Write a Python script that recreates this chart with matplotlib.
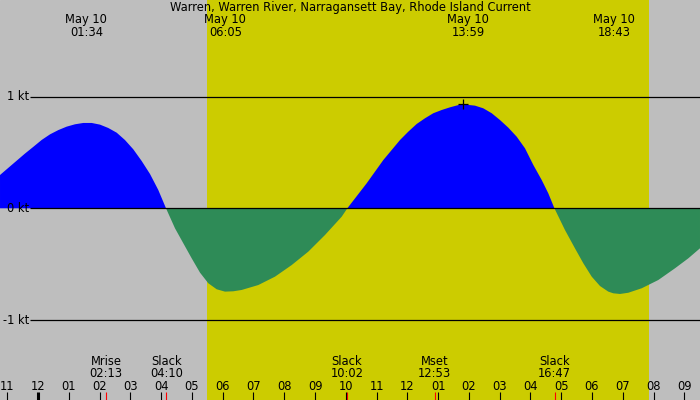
import numpy as np
import matplotlib
matplotlib.use("Agg")
import matplotlib.pyplot as plt

# ---- data (hours relative to midnight May 10, current in knots) ----
hours = [-1.238, -0.913, -0.426, -0.156, 0.117, 0.387, 0.656, 0.929, 1.199, 1.469,
         1.742, 2.012, 2.281, 2.554, 2.824, 3.094, 3.367, 3.637, 3.906, 4.157,
         4.449, 4.719, 4.992, 5.262, 5.531, 5.804, 6.074, 6.344, 6.617, 7.156,
         7.699, 8.242, 8.781, 9.324, 9.867, 10.05,
         10.679, 11.219, 11.761, 12.031, 12.304, 12.574, 12.844, 13.117, 13.387,
         13.656, 13.82, 13.929, 14.199, 14.469, 14.742, 15.012, 15.281, 15.554,
         15.824, 16.094, 16.367, 16.581, 16.78,
         17.122, 17.447, 17.719, 17.992, 18.262, 18.531, 18.694, 18.912, 19.181,
         19.616, 20.156, 20.699, 21.131, 21.511]
knots = [0.298, 0.375, 0.490, 0.550, 0.612, 0.662, 0.700, 0.731, 0.752, 0.764,
         0.764, 0.749, 0.719, 0.677, 0.611, 0.528, 0.423, 0.307, 0.164, 0.0,
         -0.179, -0.313, -0.448, -0.576, -0.671, -0.725, -0.746, -0.743, -0.731, -0.687,
         -0.612, -0.508, -0.388, -0.239, -0.075, 0.0,
         0.224, 0.432, 0.611, 0.686, 0.755, 0.806, 0.851, 0.880, 0.904,
         0.924, 0.930, 0.927, 0.919, 0.895, 0.851, 0.790, 0.722, 0.641,
         0.537, 0.388, 0.253, 0.134, 0.0,
         -0.194, -0.358, -0.492, -0.612, -0.696, -0.746, -0.761, -0.767, -0.756,
         -0.716, -0.642, -0.537, -0.448, -0.358]

daylight = [5.49, 19.85]

top_dates = ["May 10", "May 10", "May 10", "May 10"]
top_times = ["01:34", "06:05", "13:59", "18:43"]
top_hours = [1 + 34/60, 6 + 5/60, 13 + 59/60, 18 + 43/60]

event_names = ["Mrise", "Slack", "Slack", "Mset", "Slack"]
event_times = ["02:13", "04:10", "10:02", "12:53", "16:47"]
event_hours = [2 + 13/60, 4 + 10/60, 10 + 2/60, 12 + 53/60, 16 + 47/60]

tick_hours = list(range(-1, 22))
tick_labels = ["11", "12", "01", "02", "03", "04", "05", "06", "07", "08", "09", "10",
               "11", "12", "01", "02", "03", "04", "05", "06", "07", "08", "09"]

level_values = [1, 0, -1]
level_labels = ["1 kt", "0 kt", "-1 kt"]

title = "Warren, Warren River, Narragansett Bay, Rhode Island Current"

# ---- figure ----
W, H = 700, 400
FS = 8.3
LS = 0.95
fig = plt.figure(figsize=(7, 4), dpi=100)
ax = fig.add_axes([0, 0, 1, 1])
px_per_h = 30.77
x0 = 38.1
xmin, xmax = -x0 / px_per_h, (W - x0) / px_per_h
zero_y, px_per_kt = 208.3, 111.7
ymax = zero_y / px_per_kt
ymin = -(H - zero_y) / px_per_kt
ax.set_xlim(xmin, xmax)
ax.set_ylim(ymin, ymax)
ax.axis("off")
ax.add_patch(plt.Rectangle((xmin, ymin), xmax - xmin, ymax - ymin, color="#bebebe", zorder=0))
ax.axvspan(daylight[0], daylight[1], color="#cccc00", lw=0, zorder=1)

t = np.array(hours)
v = np.array(knots)
ax.fill_between(t, v, 0, where=v >= 0, interpolate=True, color="#0000ff", lw=0, zorder=2)
ax.fill_between(t, v, 0, where=v <= 0, interpolate=True, color="#2e8b57", lw=0, zorder=2)

def dx(p):
    return p / px_per_h

def ypx(p):
    return zero_y / px_per_kt - p / px_per_kt

lx = xmin + dx(30)
for val, lab in zip(level_values, level_labels):
    ax.plot([lx, xmax], [val, val], color="black", lw=0.9, zorder=3, solid_capstyle="butt")
    ax.text(xmin + dx(29), val, lab, ha="right", va="center", fontsize=FS, color="black", zorder=4)

# peak marker
i = int(np.argmax(v))
ax.plot([t[i]], [v[i]], marker="+", color="black", ms=7, mew=0.9, zorder=4)

ax.text((xmin + xmax) / 2, ypx(7.5), title, ha="center", va="center", fontsize=FS, zorder=5)
for d, tm, h in zip(top_dates, top_times, top_hours):
    ax.text(h, ypx(25.8), d + "\n" + tm, ha="center", va="center", fontsize=FS,
            linespacing=LS, multialignment="center", zorder=5)

for n, tm, h in zip(event_names, event_times, event_hours):
    ax.text(h, ypx(367.5), n + "\n" + tm, ha="center", va="center", fontsize=FS,
            linespacing=LS, multialignment="center", zorder=5)
    ax.plot([h, h], [ypx(392), ypx(400)], color="red", lw=0.8, zorder=5, solid_capstyle="butt")

for h, lab in zip(tick_hours, tick_labels):
    ax.text(h, ypx(386), lab, ha="center", va="center", fontsize=FS, zorder=5)
    lw = 2.2 if h == 0 else 0.8
    ax.plot([h, h], [ypx(392), ypx(400)], color="black", lw=lw, zorder=5, solid_capstyle="butt")

fig.savefig("out.png", dpi=100)
